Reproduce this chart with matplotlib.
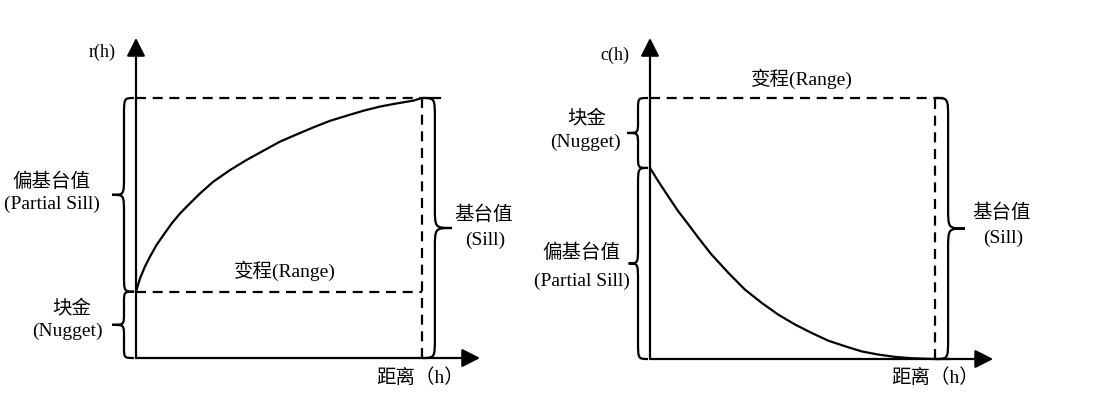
import matplotlib
matplotlib.use("Agg")
import matplotlib.pyplot as plt
from matplotlib.path import Path
from matplotlib.patches import PathPatch

plt.rcParams['font.family'] = ['Liberation Serif', 'Noto Sans CJK SC']

# values, normalised so that range = 1 and sill = 1
sill = 1.0
rng = 1.0

# left: semivariogram r(h)
r_nugget = 0.255
r_h = [0.0, 0.014, 0.031, 0.049, 0.072, 0.096, 0.125, 0.154, 0.189, 0.224,
       0.270, 0.329, 0.387, 0.445, 0.503, 0.562, 0.620, 0.678, 0.737, 0.795,
       0.853, 0.911, 0.970, 1.0, 1.063]
r_val = [0.255, 0.306, 0.351, 0.390, 0.435, 0.473, 0.518, 0.556, 0.595, 0.633,
         0.678, 0.723, 0.762, 0.797, 0.832, 0.860, 0.887, 0.912, 0.932, 0.951,
         0.967, 0.979, 0.990, 1.0, 1.0]

# right: covariance c(h)
c_nugget = 0.268
c_h = [0.0, 0.029, 0.064, 0.099, 0.135, 0.170, 0.216, 0.275, 0.333, 0.392,
       0.450, 0.509, 0.567, 0.626, 0.684, 0.743, 0.801, 0.860, 0.918, 1.0, 1.05]
c_val = [0.732, 0.681, 0.623, 0.566, 0.515, 0.464, 0.400, 0.330, 0.266, 0.215,
         0.170, 0.132, 0.100, 0.070, 0.049, 0.029, 0.017, 0.008, 0.003, 0.0, 0.0]

lab_range = "变程(Range)"
lab_sill = ["基台值", "(Sill)"]
lab_psill = ["偏基台值", "(Partial Sill)"]
lab_nugget = ["块金", "(Nugget)"]
lab_dist = "距离（h）"

LW = 1.6
FS = 14


def brace(ax, x_end, x_spine, x_tip, y0, y1, r):
    ym = (y0 + y1) / 2
    verts = [(x_end, y1),
             (x_spine, y1), (x_spine, y1), (x_spine, y1 - r),
             (x_spine, ym + r),
             (x_spine, ym), (x_spine, ym), (x_tip, ym),
             (x_spine, ym), (x_spine, ym), (x_spine, ym - r),
             (x_spine, y0 + r),
             (x_spine, y0), (x_spine, y0), (x_end, y0)]
    codes = [Path.MOVETO] + [Path.CURVE4] * 3 + [Path.LINETO] + [Path.CURVE4] * 6 + \
            [Path.LINETO] + [Path.CURVE4] * 3
    ax.add_patch(PathPatch(Path(verts, codes), fill=False, lw=LW, color="k"))


def axes_arrows(ax, x_tip, y_tip):
    style = "-|>,head_length=0.55,head_width=0.28"
    for tip in [(x_tip, 0), (0, y_tip)]:
        ax.annotate("", xy=tip, xytext=(0, 0),
                    arrowprops=dict(arrowstyle=style, lw=LW, color="k",
                                    mutation_scale=20, shrinkA=0, shrinkB=0))


def setup(ax, x0, sx, y0, sy, left, right):
    # map pixel layout to the data units of this panel
    ax.set_xlim((left - x0) / sx, (right - x0) / sx)
    ax.set_ylim((y0 - 400) / sy, y0 / sy)
    ax.axis("off")


fig = plt.figure(figsize=(11.01, 4.0), dpi=100)
ax1 = fig.add_axes([0, 0, 0.5, 1])
ax2 = fig.add_axes([0.5, 0, 0.5, 1])
setup(ax1, 136, 286, 358, 260, 0, 550.5)
setup(ax2, 650, 285, 359, 261, 550.5, 1101)

dash = (0, (4.5, 3))

# ---- left panel ----
ax1.plot(r_h, r_val, color="k", lw=LW)
ax1.plot([0, rng], [sill, sill], color="k", lw=LW, ls=dash)
ax1.plot([0, rng], [r_nugget, r_nugget], color="k", lw=LW, ls=dash)
ax1.plot([rng, rng], [0, sill], color="k", lw=LW, ls=dash)
axes_arrows(ax1, 1.203, 1.231)
brace(ax1, -0.007, -0.042, -0.084, r_nugget, sill, 0.07)
brace(ax1, -0.007, -0.042, -0.084, 0, r_nugget, 0.045)
brace(ax1, rng, rng + 0.045, rng + 0.105, 0, sill, 0.08)
ax1.text(-0.119, 1.177, "r(h)", ha="center", va="center", fontsize=FS - 1)
ax1.text(-0.294, 0.677, lab_psill[0], ha="center", va="center", fontsize=FS)
ax1.text(-0.294, 0.592, lab_psill[1], ha="center", va="center", fontsize=FS)
ax1.text(-0.224, 0.192, lab_nugget[0], ha="center", va="center", fontsize=FS)
ax1.text(-0.238, 0.104, lab_nugget[1], ha="center", va="center", fontsize=FS)
ax1.text(0.521, 0.335, lab_range, ha="center", va="center", fontsize=FS)
ax1.text(1.217, 0.55, lab_sill[0], ha="center", va="center", fontsize=FS)
ax1.text(1.22, 0.454, lab_sill[1], ha="center", va="center", fontsize=FS)
ax1.text(0.993, -0.075, lab_dist, ha="center", va="center", fontsize=FS)

# ---- right panel ----
ax2.plot(c_h, c_val, color="k", lw=LW)
ax2.plot([0, 1.053], [sill, sill], color="k", lw=LW, ls=dash)
ax2.plot([rng, rng], [0, sill], color="k", lw=LW, ls=dash)
axes_arrows(ax2, 1.204, 1.23)
brace(ax2, -0.007, -0.042, -0.08, sill - c_nugget, sill, 0.045)
brace(ax2, -0.007, -0.042, -0.075, 0, sill - c_nugget, 0.07)
brace(ax2, rng, rng + 0.046, rng + 0.105, 0, sill, 0.08)
ax2.text(-0.123, 1.165, "c(h)", ha="center", va="center", fontsize=FS - 1)
ax2.text(0.533, 1.073, lab_range, ha="center", va="center", fontsize=FS)
ax2.text(-0.221, 0.923, lab_nugget[0], ha="center", va="center", fontsize=FS)
ax2.text(-0.228, 0.831, lab_nugget[1], ha="center", va="center", fontsize=FS)
ax2.text(-0.239, 0.406, lab_psill[0], ha="center", va="center", fontsize=FS)
ax2.text(-0.239, 0.299, lab_psill[1], ha="center", va="center", fontsize=FS)
ax2.text(1.232, 0.559, lab_sill[0], ha="center", va="center", fontsize=FS)
ax2.text(1.239, 0.464, lab_sill[1], ha="center", va="center", fontsize=FS)
ax2.text(1.0, -0.073, lab_dist, ha="center", va="center", fontsize=FS)

fig.savefig("out.png", dpi=100)
